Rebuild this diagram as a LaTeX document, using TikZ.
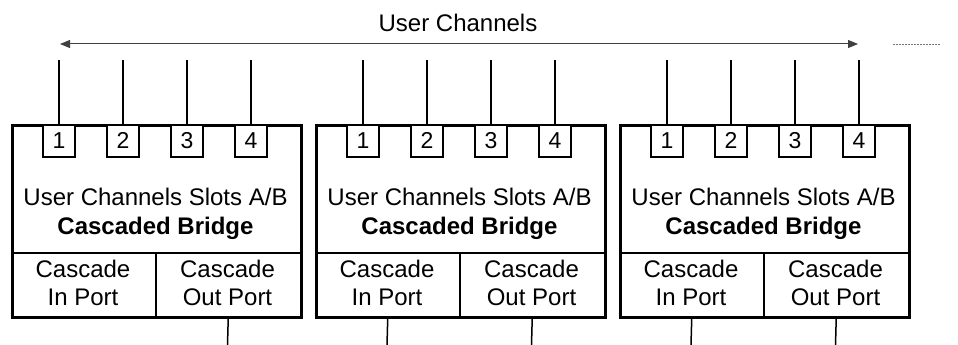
\documentclass[tikz,border=0pt]{standalone}
\usepackage{fontspec}
\setmainfont{Liberation Sans}
\usetikzlibrary{arrows.meta}
\begin{document}
\begin{tikzpicture}[x=1pt,y=-1pt,
  bigbox/.style={draw, line width=3pt, minimum width=289pt, minimum height=192pt, anchor=north west, inner sep=0pt},
  cellbox/.style={draw, line width=1.5pt, minimum height=64pt, anchor=north west, inner sep=0pt},
  portbox/.style={draw, fill=white, line width=1.5pt, minimum size=32pt, inner sep=0pt},
  digit/.style={anchor=base, inner sep=0pt, font=\fontsize{23}{26}\selectfont},
  txt/.style={anchor=base, inner sep=0pt, font=\fontsize{24}{28}\selectfont},
  wire/.style={line width=1.5pt},
  span/.style={line width=1pt, black!75, {Triangle[length=10pt,width=8pt]}-{Triangle[length=10pt,width=8pt]}}
]
\useasboundingbox (0,0) rectangle (958,345);
% top arrow
\coordinate (al) at (60,44);
\coordinate (ar) at (858,44);
\draw[span] (al) -- (ar);
\node[txt] (uc) at (458,32) {User Channels};
\coordinate (d1) at (893,44);
\coordinate (d2) at (940,44);
\draw[black!55, line width=0.8pt, dash pattern=on 2pt off 1pt] (d1) -- (d2);
\foreach \i/\x in {1/11,2/315,3/619}{
  \node[cellbox, minimum width=144pt] (in\i) at (\x,252) {};
  \node[cellbox, minimum width=145pt] (out\i) at (\x+144,252) {};
  \node[txt] at (\x+72,277) {Cascade};
  \node[txt] at (\x+72,305) {In Port};
  \node[txt] at (\x+216.5,277) {Cascade};
  \node[txt] at (\x+216.5,305) {Out Port};
  \node[bigbox] (b\i) at (\x,124) {};
  \node[txt] at (\x+144.5,205) {User Channels Slots A/B};
  \node[txt] at (\x+144.5,234) {\bfseries Cascaded Bridge};
  \foreach \j in {1,...,4}{
    \node[portbox, anchor=north] (p\i\j) at (\x+48+64*\j-64,124) {};
    \node[digit] at (\x+48+64*\j-64,148) {\j};
    \coordinate (c\i\j) at (\x+48+64*\j-64,60);
    \draw[wire] (c\i\j) -- (p\i\j.north);
  }
  \coordinate (o\i) at (\x+216.5,345);
  \draw[wire] (out\i.south) -- (o\i);
}
\coordinate (i2) at (387,345);
\coordinate (i3) at (691,345);
\draw[wire] (in2.south) -- (i2);
\draw[wire] (in3.south) -- (i3);
\end{tikzpicture}
\end{document}
